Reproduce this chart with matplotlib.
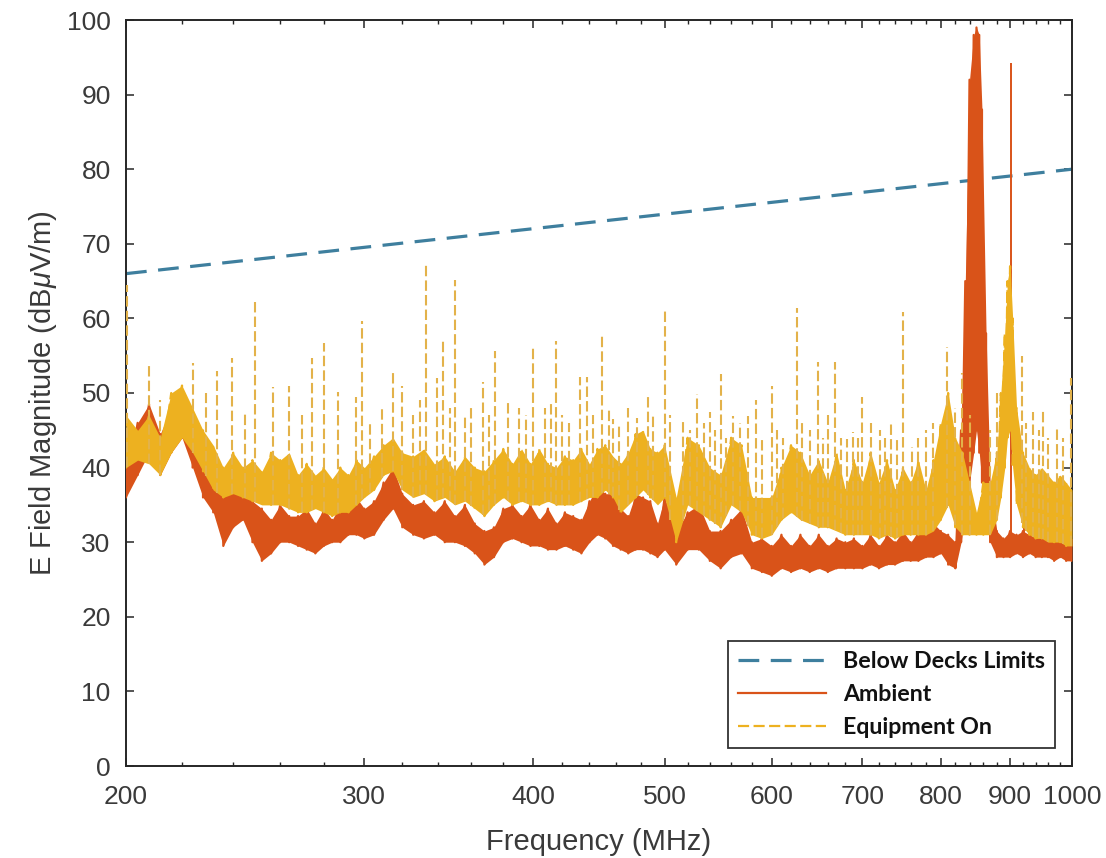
import numpy as np
import matplotlib
matplotlib.use("Agg")
import matplotlib.pyplot as plt
from matplotlib.ticker import FixedLocator, FixedFormatter, NullLocator

# ---------------- data ----------------
limit_freq = [200, 1000]
limit_db = [66, 80]

amb_freq = [200, 204, 208, 212, 216, 220, 224, 228, 232, 236, 240, 244, 248,
            252, 256, 260, 264, 268, 272, 276, 280, 284, 288, 292, 296, 300,
            305, 310, 315, 320, 326, 332, 338, 344, 350, 356, 362, 368, 374,
            380, 386, 392, 398, 404, 410, 416, 422, 428, 434, 440, 446, 452,
            458, 464, 470, 476, 482, 488, 494, 500,
            510, 520, 530, 540, 550, 560, 570, 580, 590, 600, 610, 620, 630,
            640, 650, 660, 670, 680, 690, 700, 710, 720, 730, 740, 750, 760,
            770, 780, 790, 800, 810, 820,
            828, 834, 840, 846, 850, 854, 858, 864, 870,
            880, 890, 900, 910, 920, 930, 940, 950, 960, 970, 980, 990, 1000]
amb_hi = [43, 46, 48.5, 44.5, 48, 50, 46.5, 43, 40, 38.5, 37, 38.5, 35.5,
          34.5, 33, 35, 33.5, 33.5, 34.5, 32.5, 34.5, 33, 35, 34.5, 36, 34.5,
          35.5, 38, 40, 36.5, 35, 35.5, 34, 35.5, 33.5, 35, 32.5, 31.5, 32,
          34.5, 35, 33.5, 35, 33, 34.5, 32.5, 34, 33.5, 33, 35.5, 37.5, 36.5,
          36.5, 34.5, 33.5, 36.5, 36, 35.5, 32.5, 36,
          31.5, 34, 35, 31.5, 31.5, 33, 34.5, 30, 30.5, 29.5, 31, 29.5, 31,
          29.5, 31, 29.5, 30.5, 30, 30.5, 29.5, 31, 29.5, 31, 30, 31.5, 30,
          31.5, 31, 32.5, 31.5, 31, 30,
          45, 65, 92, 98, 99, 98, 88, 58, 38,
          31.5, 30.5, 31.5, 31, 31.5, 31, 31.5, 30.5, 31.5, 30.5, 31, 30, 30.5]
amb_lo = [36, 39, 42, 39, 42, 44, 40, 36, 34, 29.5, 32, 33, 30,
          27.5, 28.5, 30, 30, 29.5, 29, 28.5, 29.5, 30, 30, 31, 31, 30.5,
          31, 33, 34.5, 32, 31, 30.5, 31, 30, 30, 29.5, 28.5, 27, 28,
          30, 30.5, 30, 29.5, 29.5, 29, 29, 29.5, 29, 28.5, 30, 31, 30.5,
          29.5, 29, 28.5, 29, 29, 28.5, 28, 29,
          27, 29, 29, 27.5, 26.5, 28, 28.5, 26.5, 26, 25.5, 26.5, 26, 26.5,
          26, 26.5, 26, 26.5, 26.5, 26.5, 26.5, 27, 26.5, 27, 27, 27.5, 27.5,
          27.5, 28, 28, 28.5, 27, 26.5,
          30, 34, 38, 42, 45, 42, 38, 33, 30,
          28, 28, 28, 28.5, 28, 28.5, 28, 28, 28, 27.5, 28, 27.5, 27.5]
amb_spike_freq = [901, 922]
amb_spike_db = [94.2, 38]

eq_freq = [200, 204, 208, 212, 216, 220, 224, 228, 232, 236, 240, 244, 248,
           252, 256, 260, 264, 268, 272, 276, 280, 284, 288, 292, 296, 300,
           305, 310, 315, 320, 326, 332, 338, 344, 350, 356, 362, 368, 374,
           380, 386, 392, 398, 404, 410, 416, 422, 428, 434, 440, 446, 452,
           458, 464, 470, 476, 482, 488, 494, 500,
           510, 520, 530, 540, 550, 560, 570, 580, 590, 600,
           610, 620, 630, 640, 650, 660, 670, 680, 690, 700,
           710, 720, 730, 740, 750, 760, 770, 780, 790, 800,
           810, 820, 830, 840, 850, 860, 870, 880,
           886, 892, 896, 900, 904, 910,
           920, 930, 940, 950, 960, 970, 980, 990, 1000]
eq_hi = [47, 45, 47, 44, 50, 51, 48, 45, 43, 40, 42, 40, 41,
         39.5, 42, 41, 42, 39, 40.5, 39, 40, 38.5, 40, 39, 41, 40,
         41.5, 43, 44, 42, 41.5, 42.5, 40.5, 41.5, 39.5, 41.5, 40, 39.5, 41,
         42.5, 40.5, 42.5, 40.5, 42.5, 40.5, 40, 41.5, 41, 42.5, 40.5, 42.5, 43,
         41.5, 40.5, 42, 44.5, 45, 42.5, 42, 43,
         36, 44, 43, 40, 39, 44, 43, 36, 36, 36,
         40, 43, 42, 39, 41, 38, 42, 37, 41, 38,
         42, 38, 41, 37, 40, 38, 41, 37, 41, 46,
         50, 44, 42, 38, 34, 38, 38, 42,
         50, 58, 65, 67, 60, 48,
         42, 40, 39, 40, 39, 38, 39, 38, 37]
eq_lo = [40, 41, 40.5, 39, 42, 44, 42, 39.5, 37, 36, 36.5, 36, 35.5,
         35, 35, 35, 34.5, 34, 34, 34.5, 34, 33.5, 34, 34, 35, 36,
         37, 39, 39.5, 37, 36, 36.5, 35.5, 36, 35, 35.5, 34.5, 33.5, 35,
         36, 35, 35.5, 35, 35, 35.5, 35, 35, 35, 35.5, 36, 36, 37,
         36, 34, 35, 36, 37, 36, 35, 36,
         30, 35, 34, 33, 32, 35, 34, 31, 30.5, 31,
         33, 34, 33, 32.5, 32, 32, 31.5, 31, 31, 31,
         31, 30.5, 31, 30.5, 31, 31, 31, 31, 31.5, 33,
         35, 32, 31, 31, 31, 31, 31, 33,
         36, 40, 44, 45, 40, 35,
         32, 31, 30.5, 30.5, 30, 30, 30, 29.5, 29.5]
eq_spike_freq = [200.5, 208, 212, 224, 229, 233.5, 239.5, 245, 249, 257, 264,
                 270, 274.5, 280, 287, 296, 299, 303, 309, 315, 320, 326, 330,
                 333, 339.5, 343, 347, 350, 356, 360, 367, 371, 375, 383, 390,
                 395, 400, 408, 412, 416, 420, 425, 433, 438, 443, 449.5, 455,
                 458, 463, 470, 477, 486, 490, 500, 505, 516, 522, 528, 535,
                 540, 545, 550, 555, 562, 568, 576, 584, 590, 600, 605, 612,
                 626, 632, 640, 649, 655, 660, 668, 675, 682, 689, 695, 700,
                 710, 721, 728, 735, 742, 750, 762, 770, 780, 790, 808, 819,
                 830, 840, 870, 880, 918, 925, 936, 945, 952, 960, 975, 985,
                 998]
eq_spike_db = [64.5, 54, 49, 54, 50, 53, 54.7, 47.4, 62.2, 50.8, 51,
               47, 54.7, 56.7, 50.2, 49.4, 59.6, 46, 48, 53, 51, 47, 49,
               67.2, 52, 57, 48, 65.2, 47, 48, 51.5, 47, 55.6, 49, 48,
               47, 56, 48, 49, 57, 47, 46, 52.2, 52.2, 47, 58, 48,
               46.5, 46, 48, 46.7, 49.4, 47, 61.2, 47, 46.7, 45, 49.8, 46,
               47.5, 45, 52.5, 44, 46.9, 46, 46.9, 49.1, 44, 50.9, 45, 44,
               61.4, 46, 45, 54.2, 44, 47, 54.2, 44, 43.8, 44.8, 44, 49.5,
               46, 45, 44, 46, 44, 60.9, 42.7, 44, 45, 46, 56.2, 48,
               52.7, 47, 45, 50, 55, 46, 47.4, 45, 48, 44, 45.5, 44,
               52]

x_major = [200, 300, 400, 500, 600, 700, 800, 900, 1000]
x_major_labels = ["200", "300", "400", "500", "600", "700", "800", "900", "1000"]
y_ticks = [0, 10, 20, 30, 40, 50, 60, 70, 80, 90, 100]

# ---------------- styling ----------------
plt.rcParams["font.family"] = ["Liberation Sans", "DejaVu Sans"]
plt.rcParams["mathtext.fontset"] = "custom"
plt.rcParams["mathtext.rm"] = "Liberation Sans"
plt.rcParams["mathtext.it"] = "Liberation Sans:italic"

c_limit = "#3e7f9e"
c_amb = "#D95319"
c_eq = "#EDB120"
c_text = "#3a3a3a"

fig = plt.figure(figsize=(11.06, 8.58), dpi=100)
ax = fig.add_axes([126 / 1106, 1 - 766 / 858, 946 / 1106, 746 / 858])


def zigzag(freq, hi, lo):
    x = np.repeat(np.asarray(freq, float), 2)
    y = np.column_stack([hi, lo]).ravel()
    return x, y


# limit line
ax.plot(limit_freq, limit_db, color=c_limit, lw=2.3, linestyle=(0, (6.5, 3.6)),
        label="Below Decks Limits", zorder=2)

# ambient
ax.fill_between(amb_freq, amb_lo, amb_hi, color=c_amb, lw=0, zorder=3)
xa, ya = zigzag(amb_freq, amb_hi, amb_lo)
ax.plot(xa, ya, color=c_amb, lw=1.6, label="Ambient", zorder=3)
ax.vlines(amb_spike_freq, np.interp(amb_spike_freq, amb_freq, amb_lo),
          amb_spike_db, color=c_amb, lw=1.4, zorder=3)

# equipment on
ax.fill_between(eq_freq, eq_lo, eq_hi, color=c_eq, lw=0, zorder=4)
xe, ye = zigzag(eq_freq, eq_hi, eq_lo)
ax.plot(xe, ye, color=c_eq, lw=1.6, linestyle=(0, (5, 2)),
        label="Equipment On", zorder=4)
ax.vlines(eq_spike_freq, np.interp(eq_spike_freq, eq_freq, eq_lo),
          eq_spike_db, color="#E3B24A", lw=1.5, linestyles=[(0, (5, 2))],
          zorder=4)

# axes
ax.set_xscale("log")
ax.set_xlim(200, 1000)
ax.set_ylim(0, 100)
ax.xaxis.set_major_locator(FixedLocator(x_major))
ax.xaxis.set_major_formatter(FixedFormatter(x_major_labels))
ax.xaxis.set_minor_locator(FixedLocator([f for f in range(220, 1000, 20) if f % 100]))
ax.xaxis.set_minor_formatter(FixedFormatter([]))
ax.set_yticks(y_ticks)
ax.yaxis.set_minor_locator(NullLocator())

for s in ax.spines.values():
    s.set_color("#262626")
    s.set_linewidth(1.4)

ax.tick_params(which="both", direction="in", top=True, right=True,
               color="#262626", labelcolor=c_text, labelsize=19)
ax.tick_params(which="major", length=6, width=1.1)
ax.tick_params(which="minor", length=3, width=1.0)
ax.tick_params(axis="x", which="major", pad=14)
ax.tick_params(axis="y", which="major", pad=11)

ax.set_xlabel("Frequency (MHz)", fontsize=21, color=c_text)
ax.set_ylabel("E Field Magnitude (dB$\\mu$V/m)", fontsize=21, color=c_text)
ax.xaxis.set_label_coords(0.5, -0.083)
ax.yaxis.set_label_coords(-0.071, 0.5)

leg = ax.legend(loc="lower right", bbox_to_anchor=(0.982, 0.024),
                borderaxespad=0, fancybox=False, framealpha=1,
                edgecolor="#333333", handlelength=3.8, handletextpad=0.73,
                labelspacing=0.52, borderpad=0.42,
                prop={"family": ["Lato", "DejaVu Sans"], "weight": "bold", "size": 16.7})
leg.get_frame().set_linewidth(1.3)
for t in leg.get_texts():
    t.set_color("#111111")

fig.savefig("out.png", dpi=100)
